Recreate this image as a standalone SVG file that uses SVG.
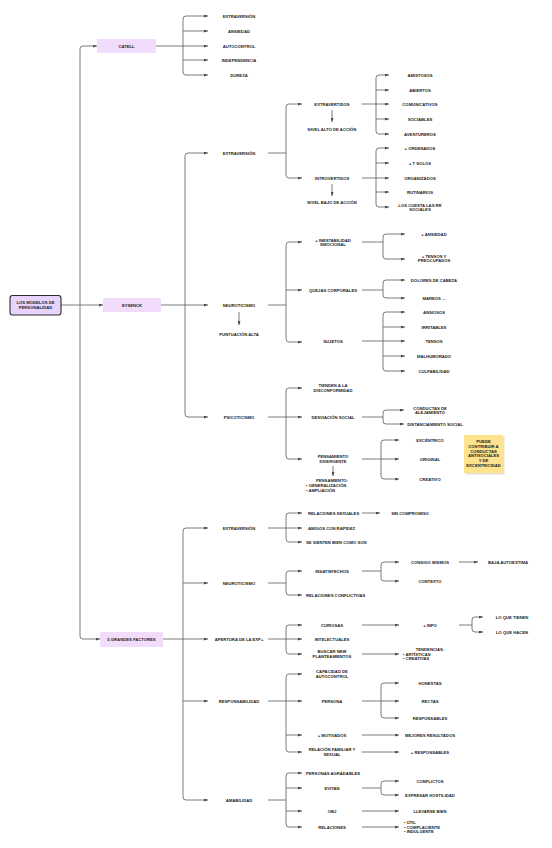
<svg xmlns="http://www.w3.org/2000/svg" width="552" height="848" viewBox="0 0 552 848">
<style>
text{font-family:"Liberation Sans","DejaVu Sans",sans-serif;font-size:4.2px;font-weight:bold;fill:#222;text-anchor:middle;dominant-baseline:central}
.s{text-anchor:start}
.c path{fill:none;stroke:#5a5a5a;stroke-width:0.8}
.c .a{marker-end:url(#ar)}
.c .b{marker-start:url(#ar);marker-end:url(#ar)}
.box{fill:#f1ddfb}
</style>
<defs>
<marker id="ar" viewBox="0 0 8 6" refX="8" refY="3" markerWidth="4" markerHeight="3" markerUnits="userSpaceOnUse" orient="auto-start-reverse"><path d="M0,0L8,3L0,6z" fill="#4a4a4a"/></marker>
<linearGradient id="pg" x1="0" y1="0" x2="1" y2="1"><stop offset="0" stop-color="#ecd3fa"/><stop offset="1" stop-color="#f6e9fd"/></linearGradient>
</defs>
<rect width="552" height="848" fill="#ffffff"/>
<g class="c" id="connectors">
<path d="M61,305 H80"/>
<path class="b" d="M97,46 H83 Q80,46 80,49 V636 Q80,639 83,639 H100"/>
<path class="a" d="M80,305 H103"/>
<path d="M156,46 H183"/>
<path class="b" d="M208,16 H186 Q183,16 183,19 V72 Q183,75 186,75 H208"/>
<path class="a" d="M183,31 H208"/><path class="a" d="M183,46 H208"/><path class="a" d="M183,60 H208"/>
<path d="M161,305 H185"/>
<path class="b" d="M208,153 H188 Q185,153 185,156 V414 Q185,417 188,417 H208"/>
<path class="a" d="M185,305 H208"/>
<path d="M268,153 H286"/>
<path class="b" d="M302,104 H289 Q286,104 286,107 V175 Q286,178 289,178 H302"/>
<path d="M362,104 H376"/>
<path class="b" d="M389,75 H379 Q376,75 376,78 V131 Q376,134 379,134 H389"/>
<path class="a" d="M376,90 H389"/><path class="a" d="M376,104 H389"/><path class="a" d="M376,119 H389"/>
<path class="a" d="M332,110 V122"/>
<path d="M362,178 H376"/>
<path class="b" d="M389,148 H379 Q376,148 376,151 V204 Q376,207 379,207 H389"/>
<path class="a" d="M376,163 H389"/><path class="a" d="M376,178 H389"/><path class="a" d="M376,192 H389"/>
<path class="a" d="M332,184 V196"/>
<path d="M268,305 H286"/>
<path class="b" d="M302,242 H289 Q286,242 286,245 V339 Q286,342 289,342 H302"/>
<path class="a" d="M286,290 H302"/>
<path class="a" d="M239,312 V325"/>
<path d="M362,242 H383"/>
<path class="b" d="M405,234 H386 Q383,234 383,237 V256 Q383,259 386,259 H405"/>
<path d="M362,290 H383"/>
<path class="b" d="M405,280 H386 Q383,280 383,283 V295 Q383,298 386,298 H405"/>
<path d="M362,341 H383"/>
<path class="b" d="M405,312 H386 Q383,312 383,315 V368 Q383,371 386,371 H405"/>
<path class="a" d="M383,327 H405"/><path class="a" d="M383,341 H405"/><path class="a" d="M383,356 H405"/>
<path d="M268,417 H286"/>
<path class="b" d="M302,388 H289 Q286,388 286,391 V456 Q286,459 289,459 H302"/>
<path class="a" d="M286,417 H302"/>
<path d="M362,417 H383"/>
<path class="b" d="M404,410 H386 Q383,410 383,413 V421 Q383,424 386,424 H404"/>
<path d="M362,459 H381"/>
<path class="b" d="M399,440 H384 Q381,440 381,443 V476 Q381,479 384,479 H399"/>
<path class="a" d="M381,459 H399"/>
<path class="a" d="M333,466 V476"/>
<path d="M163,639 H183"/>
<path class="b" d="M208,528 H186 Q183,528 183,531 V797 Q183,800 186,800 H208"/>
<path class="a" d="M183,583 H208"/><path class="a" d="M183,639 H208"/><path class="a" d="M183,701 H208"/>
<path d="M268,528 H286"/>
<path class="b" d="M302,513 H289 Q286,513 286,516 V539 Q286,542 289,542 H302"/>
<path class="a" d="M286,528 H302"/>
<path class="a" d="M362,513 H380"/>
<path d="M268,583 H286"/>
<path class="b" d="M302,571 H289 Q286,571 286,574 V592 Q286,595 289,595 H302"/>
<path d="M362,571 H381"/>
<path class="b" d="M399,562 H384 Q381,562 381,565 V578 Q381,581 384,581 H399"/>
<path class="a" d="M459,562 H478"/>
<path d="M268,639 H286"/>
<path class="b" d="M302,625 H289 Q286,625 286,628 V651 Q286,654 289,654 H302"/>
<path class="a" d="M286,639 H302"/>
<path class="a" d="M362,625 H399"/>
<path d="M459,625 H472"/>
<path class="b" d="M483,617 H475 Q472,617 472,620 V629 Q472,632 475,632 H483"/>
<path class="a" d="M362,654 H399"/>
<path d="M268,701 H286"/>
<path class="b" d="M302,674 H289 Q286,674 286,677 V749 Q286,752 289,752 H302"/>
<path class="a" d="M286,701 H302"/><path class="a" d="M286,735 H302"/>
<path d="M362,701 H381"/>
<path class="b" d="M399,683 H384 Q381,683 381,686 V715 Q381,718 384,718 H399"/>
<path class="a" d="M381,701 H399"/>
<path class="a" d="M362,735 H399"/>
<path class="a" d="M362,752 H399"/>
<path d="M268,800 H286"/>
<path class="b" d="M302,773 H289 Q286,773 286,776 V824 Q286,827 289,827 H302"/>
<path class="a" d="M286,788 H302"/><path class="a" d="M286,811 H302"/>
<path d="M362,788 H381"/>
<path class="b" d="M399,781 H384 Q381,781 381,784 V792 Q381,795 384,795 H399"/>
<path class="a" d="M362,811 H399"/>
<path class="a" d="M362,827 H399"/>
</g>
<g id="root"><rect x="10" y="295.5" width="51" height="19.5" rx="2.5" fill="#e8d4fa" stroke="#2d2d2d" stroke-width="1.1"/><text x="35.5" y="302.8">LOS MODELOS DE</text><text x="35.5" y="307.6">PERSONALIDAD</text></g>
<g id="catell"><rect class="box" x="97" y="39" width="59" height="14" fill="url(#pg)"/><text x="126.5" y="46">CATELL</text></g>
<g id="eysenck"><rect class="box" x="103" y="298" width="58" height="14" fill="url(#pg)"/><text x="132" y="305">EYSENCK</text></g>
<g id="big5"><rect class="box" x="100" y="632" width="63" height="15" fill="url(#pg)"/><text x="131.5" y="639.5">5 GRANDES FACTORES</text></g>
<g id="catell-items">
<g id="c1"><text x="239" y="16">EXTRAVERSIÓN</text></g>
<g id="c2"><text x="239" y="31">ANSIEDAD</text></g>
<g id="c3"><text x="239" y="46">AUTOCONTROL</text></g>
<g id="c4"><text x="239" y="60">INDEPENDENCIA</text></g>
<g id="c5"><text x="239" y="75">DUREZA</text></g>
</g>
<g id="e-extraversion"><text x="239" y="153">EXTRAVERSIÓN</text></g>
<g id="extravertidos"><text x="332" y="104">EXTRAVERTIDOS</text></g>
<g id="nivel-alto"><text x="332" y="129">NIVEL ALTO DE ACCIÓN</text></g>
<g id="introvertidos"><text x="332" y="178">INTROVERTIDOS</text></g>
<g id="nivel-bajo"><text x="332" y="202">NIVEL BAJO DE ACCIÓN</text></g>
<g id="ext-items">
<g id="x1"><text x="420" y="75">AMISTOSOS</text></g>
<g id="x2"><text x="420" y="90">ABIERTOS</text></g>
<g id="x3"><text x="420" y="104">COMUNICATIVOS</text></g>
<g id="x4"><text x="420" y="119">SOCIABLES</text></g>
<g id="x5"><text x="420" y="134">AVENTUREROS</text></g>
</g>
<g id="int-items">
<g id="i1"><text x="420" y="148">+ ORDENADOS</text></g>
<g id="i2"><text x="420" y="163">+ T SOLOS</text></g>
<g id="i3"><text x="420" y="178">ORGANIZADOS</text></g>
<g id="i4"><text x="420" y="192">RUTINARIOS</text></g>
<g id="i5"><text x="420" y="205">LOS CUESTA LAS RR</text><text x="420" y="209.8">SOCIALES</text></g>
</g>
<g id="e-neuroticismo"><text x="239" y="305">NEUROTICISMO</text></g>
<g id="puntuacion"><text x="239" y="334">PUNTUACIÓN ALTA</text></g>
<g id="inestabilidad"><text x="333" y="240">+ INESTABILIDAD</text><text x="333" y="244.8">EMOCIONAL</text></g>
<g id="quejas"><text x="333" y="290">QUEJAS CORPORALES</text></g>
<g id="sujetos"><text x="333" y="341">SUJETOS</text></g>
<g id="n-items">
<g id="n1"><text x="434" y="234">+ ANSIEDAD</text></g>
<g id="n2"><text x="434" y="256">+ TENSOS Y</text><text x="434" y="260.8">PREOCUPADOS</text></g>
<g id="n3"><text x="434" y="280">DOLORES DE CABEZA</text></g>
<g id="n4"><text x="434" y="298">MAREOS ...</text></g>
<g id="n5"><text x="434" y="312">ANSIOSOS</text></g>
<g id="n6"><text x="434" y="327">IRRITABLES</text></g>
<g id="n7"><text x="434" y="341">TENSOS</text></g>
<g id="n8"><text x="434" y="356">MALHUMORADO</text></g>
<g id="n9"><text x="434" y="371">CULPABILIDAD</text></g>
</g>
<g id="e-psicoticismo"><text x="239" y="417">PSICOTICISMO</text></g>
<g id="disconformidad"><text x="333" y="385.5">TIENDEN A LA</text><text x="333" y="390.3">DISCONFORMIDAD</text></g>
<g id="desviacion"><text x="333" y="417">DESVIACIÓN SOCIAL</text></g>
<g id="divergente"><text x="333" y="456.8">PENSAMIENTO</text><text x="333" y="461.6">DIVERGENTE</text></g>
<g id="pens-gen"><text x="332" y="480.5">PENSAMIENTO:</text><text class="s" x="306" y="485.3">• GENERALIZACIÓN</text><text class="s" x="306" y="490.1">• AMPLIACIÓN</text></g>
<g id="p-items">
<g id="p1"><text x="430" y="408">CONDUCTAS DE</text><text x="430" y="412.8">ALEJAMIENTO</text></g>
<g id="p2"><text x="435" y="424">DISTANCIAMIENTO SOCIAL</text></g>
<g id="p3"><text x="430" y="440">EXCÉNTRICO</text></g>
<g id="p4"><text x="430" y="459">ORIGINAL</text></g>
<g id="p5"><text x="430" y="479">CREATIVO</text></g>
</g>
<g id="note"><rect x="465.5" y="436.5" width="39" height="38" fill="#c9c2a8" opacity="0.5"/><rect x="464" y="435" width="39" height="38" fill="#fde38e"/>
<text x="483.5" y="441.5">PUEDE</text><text x="483.5" y="446.3">CONTRIBUIR A</text><text x="483.5" y="451.1">CONDUCTAS</text><text x="483.5" y="455.9">ANTISOCIALES</text><text x="483.5" y="460.7">Y DE</text><text x="483.5" y="465.5">EXCENTRICIDAD</text></g>
<g id="b-extraversion"><text x="239" y="528">EXTRAVERSIÓN</text></g>
<g id="sexuales"><text class="s" x="308" y="513">RELACIONES SEXUALES</text></g>
<g id="compromiso"><text x="410" y="513">SIN COMPROMISO</text></g>
<g id="amigos"><text class="s" x="308" y="528">AMIGOS CON RAPIDEZ</text></g>
<g id="sienten"><text class="s" x="306" y="542">SE SIENTEN BIEN COMO SON</text></g>
<g id="b-neuroticismo"><text x="239" y="583">NEUROTICISMO</text></g>
<g id="insatisfechos"><text x="332" y="571">INSATISFECHOS</text></g>
<g id="conflictivas"><text class="s" x="306" y="595">RELACIONES CONFLICTIVAS</text></g>
<g id="consigo"><text x="430" y="562">CONSIGO MISMOS</text></g>
<g id="contexto"><text x="430" y="581">CONTEXTO</text></g>
<g id="autoestima"><text x="508" y="562">BAJA AUTOESTIMA</text></g>
<g id="apertura"><text x="239" y="639">APERTURA DE LA EXP+</text></g>
<g id="curiosas"><text x="332" y="625">CURIOSAS</text></g>
<g id="intelectuales"><text x="332" y="639">INTELECTUALES</text></g>
<g id="buscar"><text x="332" y="651.8">BUSCAR NEW</text><text x="332" y="656.6">PLANTEAMIENTOS</text></g>
<g id="info"><text x="430" y="625">+ INFO</text></g>
<g id="tienen"><text x="512" y="617">LO QUE TIENEN</text></g>
<g id="hacen"><text x="512" y="632">LO QUE HACEN</text></g>
<g id="tendencias"><text x="430" y="649.5">TENDENCIAS:</text><text class="s" x="403" y="654">• ARTÍSTICAS</text><text class="s" x="403" y="658.5">• CREATIVAS</text></g>
<g id="responsabilidad"><text x="239" y="701">RESPONSABILIDAD</text></g>
<g id="autocontrol"><text x="332" y="671.8">CAPACIDAD DE</text><text x="332" y="676.6">AUTOCONTROL</text></g>
<g id="persona"><text x="332" y="701">PERSONA</text></g>
<g id="motivados"><text x="332" y="735">+ MOTIVADOS</text></g>
<g id="familiar"><text x="332" y="749.8">RELACIÓN FAMILIAR Y</text><text x="332" y="754.6">SEXUAL</text></g>
<g id="honestas"><text x="430" y="683">HONESTAS</text></g>
<g id="rectas"><text x="430" y="701">RECTAS</text></g>
<g id="responsables"><text x="430" y="718">RESPONSABLES</text></g>
<g id="resultados"><text x="430" y="735">MEJORES RESULTADOS</text></g>
<g id="mas-responsables"><text x="430" y="752">+ RESPONSABLES</text></g>
<g id="amabilidad"><text x="239" y="800">AMABILIDAD</text></g>
<g id="agradables"><text class="s" x="306" y="773">PERSONAS AGRADABLES</text></g>
<g id="evitan"><text x="332" y="788">EVITAN</text></g>
<g id="obj"><text x="332" y="811">OBJ</text></g>
<g id="relaciones"><text x="332" y="827">RELACIONES</text></g>
<g id="conflictos"><text x="430" y="781">CONFLICTOS</text></g>
<g id="hostilidad"><text x="430" y="795">EXPRESAR HOSTILIDAD</text></g>
<g id="llevarse"><text x="430" y="811">LLEVARSE BIEN</text></g>
<g id="util"><text class="s" x="404" y="822.5">• ÚTIL</text><text class="s" x="404" y="827">• COMPLACIENTE</text><text class="s" x="404" y="831.5">• INDULGENTE</text></g>
</svg>
